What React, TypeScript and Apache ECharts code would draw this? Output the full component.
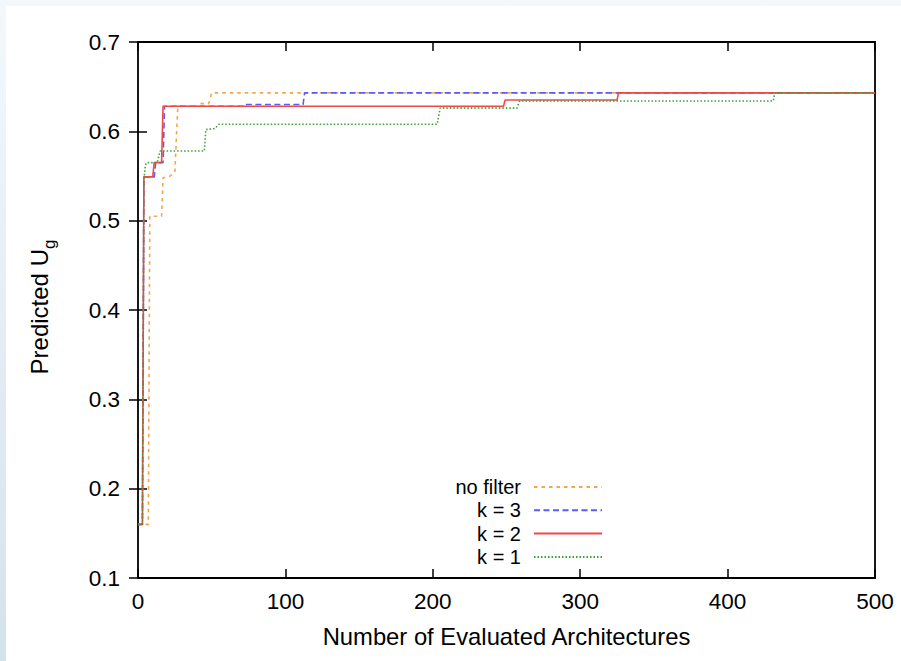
import React, { useEffect, useRef } from "react";
import * as echarts from "echarts";

const seriesNames = ["no filter", "k = 3", "k = 2", "k = 1"];
const xTicks = [0, 100, 200, 300, 400, 500];
const yTicks = [0.1, 0.2, 0.3, 0.4, 0.5, 0.6, 0.7];

const noFilter: [number, number][] = [
  [0, 0.16], [7, 0.16], [8, 0.505], [16, 0.505], [17, 0.548], [21, 0.549],
  [25, 0.554], [27, 0.628], [40, 0.628], [41, 0.631], [48, 0.631], [50, 0.643], [500, 0.643],
];
const k3: [number, number][] = [
  [0, 0.16], [3, 0.16], [4, 0.549], [11, 0.549], [12, 0.565], [17, 0.565], [18, 0.628],
  [72, 0.628], [73, 0.63], [112, 0.63], [113, 0.643], [500, 0.643],
];
const k2: [number, number][] = [
  [0, 0.16], [3, 0.16], [4, 0.549], [10, 0.549], [11, 0.565], [16, 0.565], [17, 0.628],
  [248, 0.628], [249, 0.635], [325, 0.635], [326, 0.643], [500, 0.643],
];
const k1: [number, number][] = [
  [0, 0.16], [3, 0.16], [4, 0.545], [5, 0.562], [6, 0.565], [13, 0.565], [15, 0.578],
  [45, 0.578], [46, 0.602], [52, 0.603], [55, 0.608], [203, 0.608], [205, 0.626],
  [257, 0.626], [259, 0.634], [431, 0.634], [432, 0.643], [500, 0.643],
];

const FONT = '"Liberation Sans", Arial, Helvetica, sans-serif';

export default function App() {
  const ref = useRef<HTMLDivElement>(null);
  useEffect(() => {
    if (!ref.current) return;
    const chart = echarts.init(ref.current, null, { renderer: "svg" });
    const xMin = xTicks[0], xMax = xTicks[xTicks.length - 1];
    const yMin = yTicks[0], yMax = yTicks[yTicks.length - 1];
    const xInt = xTicks[1] - xTicks[0];
    const yInt = 0.1;
    const tick = { show: true, inside: true, length: 9, lineStyle: { color: "#000", width: 1.5 } };
    const common = { splitLine: { show: false }, axisLine: { show: false } };
    const mk = (name: string, data: [number, number][], color: string, type: any, width: number) => ({
      name,
      type: "line",
      data,
      symbol: "none",
      showSymbol: false,
      lineStyle: { color, type, width },
      itemStyle: { color },
      z: 2,
    });
    chart.setOption({
      animation: false,
      textStyle: { fontFamily: FONT },
      grid: {
        left: 138, right: 26, top: 42, bottom: 83,
        show: true, borderColor: "#000", borderWidth: 1.8, backgroundColor: "transparent",
      },
      xAxis: [
        {
          type: "value", min: xMin, max: xMax, interval: xInt, position: "bottom",
          ...common, axisTick: tick,
          axisLabel: { color: "#000", fontSize: 22.5, margin: 12, fontFamily: FONT },
          name: "Number of Evaluated Architectures", nameLocation: "middle", nameGap: 46,
          nameTextStyle: { color: "#000", fontSize: 23.8, fontFamily: FONT },
        },
        {
          type: "value", min: xMin, max: xMax, interval: xInt, position: "top",
          ...common, axisTick: tick, axisLabel: { show: false },
        },
      ],
      yAxis: [
        {
          type: "value", min: yMin, max: yMax, interval: yInt, position: "left",
          ...common, axisTick: tick,
          axisLabel: { color: "#000", fontSize: 22.5, margin: 18, fontFamily: FONT, formatter: (v: number) => v.toFixed(1) },
        },
        {
          type: "value", min: yMin, max: yMax, interval: yInt, position: "right",
          ...common, axisTick: tick, axisLabel: { show: false },
        },
      ],
      legend: {
        data: seriesNames,
        orient: "vertical",
        align: "right",
        right: 298,
        top: 477,
        padding: 0,
        itemWidth: 68,
        itemHeight: 20,
        itemGap: 3.3,
        selectedMode: false,
        itemStyle: { opacity: 0 },
        textStyle: { color: "#000", fontSize: 20, fontFamily: FONT, padding: [0, 8, 0, 0] },
      },
      graphic: [
        {
          type: "text",
          x: 39,
          y: 307,
          rotation: Math.PI / 2,
          style: {
            text: "Predicted U{sub|g}",
            fontSize: 24,
            fontFamily: FONT,
            fill: "#000",
            align: "center",
            verticalAlign: "middle",
            lineHeight: 38,
            rich: { sub: { fontSize: 17, fontFamily: FONT, lineHeight: 17, verticalAlign: "bottom", fill: "#000" } },
          },
        },
      ],
      series: [
        mk(seriesNames[0], noFilter, "#f2a74a", [3.5, 4], 1.6),
        mk(seriesNames[1], k3, "#5c5cf0", [6, 3.5], 1.6),
        mk(seriesNames[2], k2, "#f04848", "solid", 1.6),
        mk(seriesNames[3], k1, "#3aa03a", [1.5, 2], 1.6),
      ],
    });
    return () => chart.dispose();
  }, []);
  return (
    <div style={{ position: "fixed", left: 0, top: 0, width: 901, height: 661, background: "linear-gradient(to bottom, #f4f8fb, #d3e3eb)" }}>
      <div style={{ position: "absolute", left: 6, top: 6, right: 0, bottom: 0, background: "#fff" }} />
      <div ref={ref} style={{ position: "absolute", left: 0, top: 0, width: 901, height: 661 }} />
    </div>
  );
}
